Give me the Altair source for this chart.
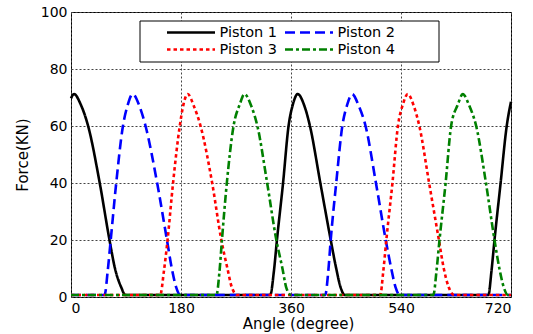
import altair as alt
import pandas as pd

# Crank angle (degree) and piston force (kN) for each of the four pistons
p1_angle = [0, 5, 16, 28, 47, 63, 72, 82, 89,
            326, 332, 337, 347, 356, 363, 371, 382, 391, 408, 425, 434, 441, 448,
            683, 688, 693, 703, 713, 720]
p1_force = [69.7, 71.2, 67.5, 60, 40, 20, 10, 3.5, 0.7,
            0.7, 9, 20, 40, 60, 67.5, 71.2, 67, 60, 40, 20, 10, 3.5, 0.7,
            0.7, 9, 20, 40, 60, 68.5]

p2_angle = [0, 55, 60, 65, 74, 85, 93, 101, 112, 122, 141, 157, 165, 172, 179,
            416, 421, 425, 434, 444, 452, 460, 471, 482, 499, 515, 524, 531, 538, 720]
p2_force = [0.7, 0.7, 9, 20, 40, 60, 67.5, 71.2, 67, 60, 40, 20, 10, 3.5, 0.7,
            0.7, 9, 20, 40, 60, 67.5, 71.2, 67, 60, 40, 20, 10, 3.5, 0.7, 0.7]

p3_angle = [0, 146, 152, 158, 167, 178, 184, 191, 201, 212, 231, 246, 256, 263, 272,
            506, 511, 516, 526, 535, 543, 551, 561, 570, 586, 602, 610, 618, 627, 720]
p3_force = [0.7, 0.7, 9, 20, 40, 60, 67.5, 71.2, 67, 60, 40, 20, 10, 3.5, 0.7,
            0.7, 9, 20, 40, 60, 67.5, 71.2, 67, 60, 40, 20, 10, 3.5, 0.7, 0.7]

p4_angle = [0, 238, 243, 247, 255, 266, 276, 284, 295, 305, 321, 336, 346, 352, 360,
            593, 598, 603, 613, 622, 633, 641, 652, 663, 679, 693, 701, 708, 715, 720]
p4_force = [0.7, 0.7, 9, 20, 40, 60, 67.5, 71.2, 67, 60, 40, 20, 10, 3.5, 0.7,
            0.7, 9, 20, 40, 60, 67.5, 71.2, 67, 60, 40, 20, 10, 3.5, 0.7, 0.7]

names = ["Piston 1", "Piston 2", "Piston 3", "Piston 4"]
colors = ["#000000", "#0000FF", "#FF0000", "#008000"]
dashes = [[1, 0], [10, 5], [3.5, 3], [8, 3, 3, 3]]

x_ticks = [0, 180, 360, 540, 720]
y_ticks = [0, 20, 40, 60, 80, 100]

frames = []
for name, ang, frc in zip(names, [p1_angle, p2_angle, p3_angle, p4_angle],
                          [p1_force, p2_force, p3_force, p4_force]):
    frames.append(pd.DataFrame({"piston": name, "angle": ang, "force": frc}))
df = pd.concat(frames, ignore_index=True)

legend_spec = dict(title=None, orient="none", legendX=96, legendY=13,
                   columns=2, direction="horizontal")

lines = alt.Chart(df).mark_line(strokeWidth=2.6, interpolate="monotone").encode(
    x=alt.X("angle:Q",
            scale=alt.Scale(domain=[0, 720], nice=False),
            axis=alt.Axis(values=x_ticks, title="Angle (degree)",
                          titleX=227, titleY=31, titleBaseline="alphabetic",
                          labelPadding=4)),
    y=alt.Y("force:Q",
            scale=alt.Scale(domain=[0, 100], nice=False),
            axis=alt.Axis(values=y_ticks, title="Force(KN)",
                          titleX=-49, titleY=142.5, titleBaseline="middle",
                          titleAngle=-90, labelPadding=4)),
    color=alt.Color("piston:N", scale=alt.Scale(domain=names, range=colors),
                    legend=alt.Legend(**legend_spec)),
    strokeDash=alt.StrokeDash("piston:N", scale=alt.Scale(domain=names, range=dashes),
                              legend=alt.Legend(**legend_spec)),
    detail="piston:N",
    order="angle:Q",
)

# white legend frame
legend_box = alt.Chart(alt.Data(values=[{"k": 1}])).mark_rect(
    fill="white", stroke="black", strokeWidth=1
).encode(
    x=alt.value(69), x2=alt.value(368), y=alt.value(9), y2=alt.value(50)
)

chart = alt.layer(legend_box, lines).properties(
    width=440, height=285,
    autosize=alt.AutoSizeParams(type="none"),
    padding={"left": 71, "top": 12, "right": 22, "bottom": 37},
).configure_view(
    stroke="black", strokeWidth=1
).configure_axis(
    labelFont="DejaVu Sans", labelFontSize=14, labelColor="black",
    titleFont="DejaVu Sans", titleFontSize=15, titleFontWeight="normal",
    titleColor="black",
    ticks=False, domain=False,
    grid=True, gridColor="#444444", gridDash=[2, 2], gridWidth=1, gridOpacity=1,
).configure_legend(
    labelFont="DejaVu Sans", labelFontSize=14.5, labelColor="black",
    symbolType="M-4,0H4", symbolSize=144, symbolStrokeWidth=2.6,
    symbolOffset=16.5, labelOffset=21, columnPadding=1, rowPadding=2,
    padding=0, symbolFillColor="transparent",
)

chart.save("out.html", embed_options={"renderer": "svg", "actions": False})
